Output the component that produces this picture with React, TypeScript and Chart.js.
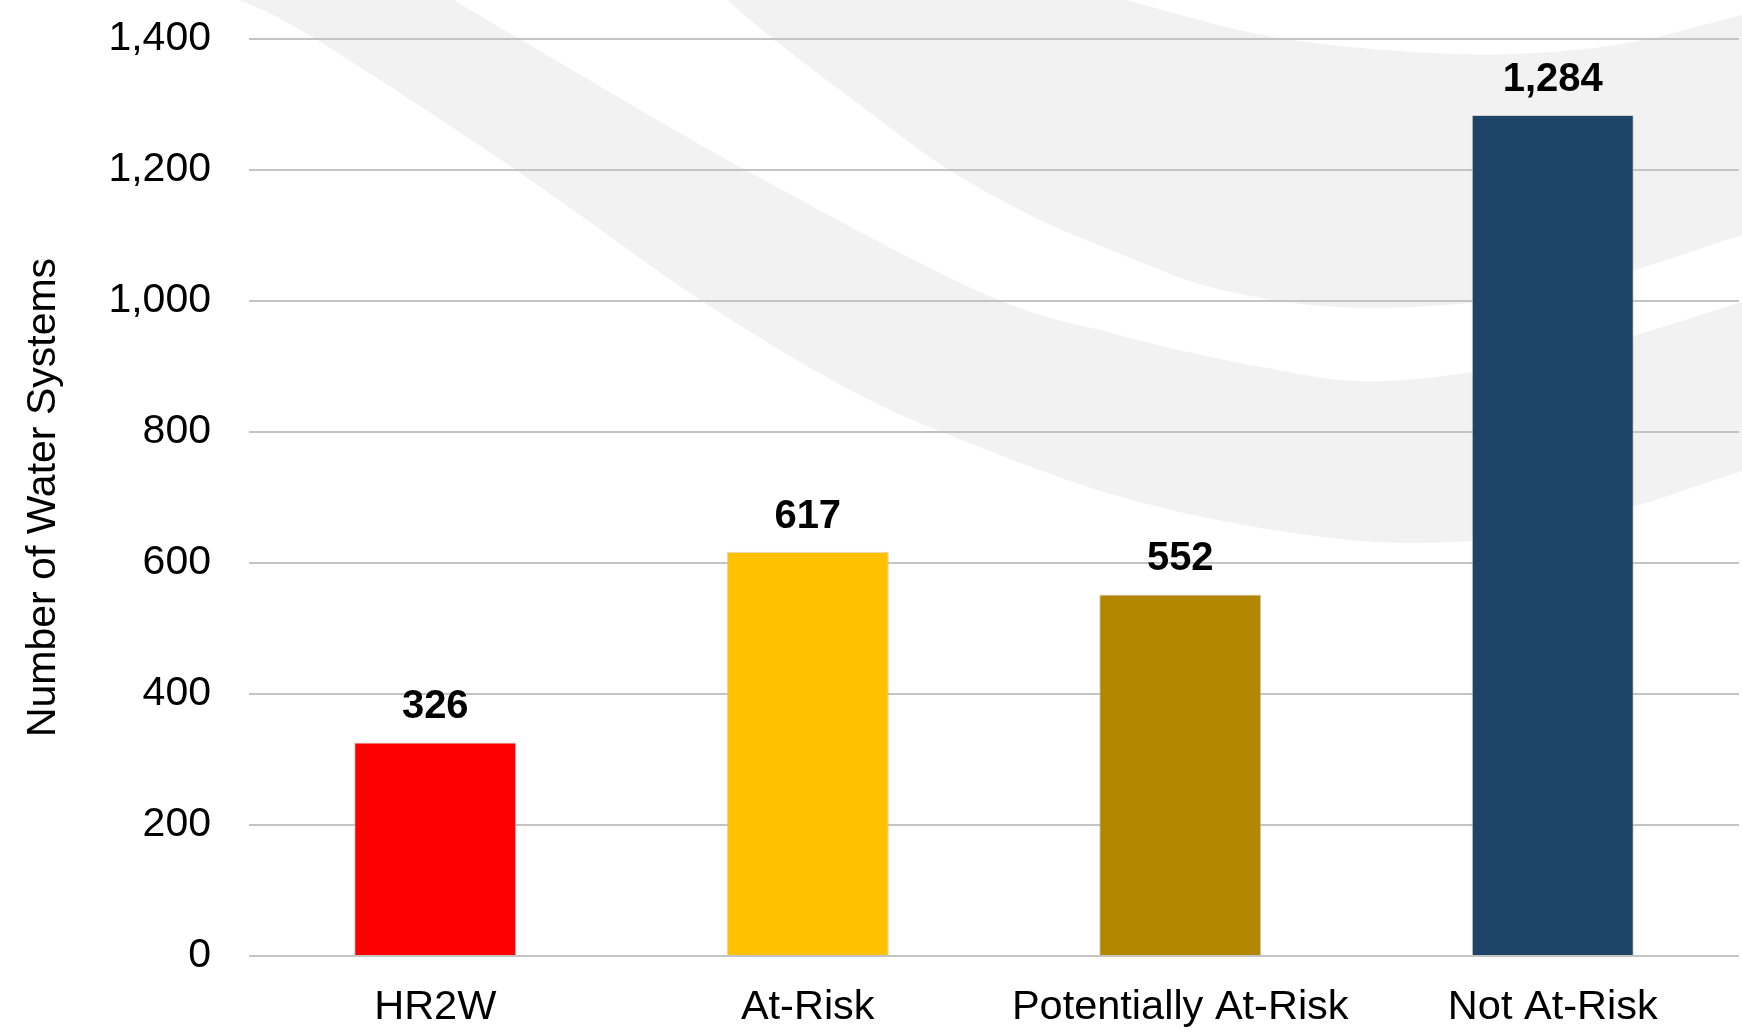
import React, { useEffect, useRef } from "react";
import { Chart, registerables } from "chart.js";

Chart.register(...registerables);

// ---- data ----
const categories = ["HR2W", "At-Risk", "Potentially At-Risk", "Not At-Risk"];
const systemCounts = [326, 617, 552, 1284];
const barColors = ["#FF0000", "#FFC000", "#B38600", "#1D4466"];
const yTickValues = [0, 200, 400, 600, 800, 1000, 1200, 1400];
const yAxisTitle = "Number of Water Systems";

// ---- decorative background swooshes (reference space 1742 x 1036) ----
const REF_W = 1742;
const REF_H = 1036;
const bandALower = [[240, 0], [314, 38], [513, 168], [702, 301], [850, 390], [962, 440], [1111, 494], [1261, 528], [1410, 543], [1559, 528], [1742, 471]];
const bandAUpper = [[454, 0], [518, 38], [742, 168], [980, 292], [1111, 333], [1261, 367], [1385, 381], [1559, 356], [1742, 302]];
const bandBLower = [[727, 0], [772, 38], [860, 105], [946, 168], [1030, 215], [1111, 250], [1222, 290], [1367, 308], [1555, 291], [1742, 235]];
const bandBUpper = [[1126, 0], [1280, 38], [1459, 54], [1609, 46], [1742, 15]];
const swooshColor = "#F2F2F3";

const FONT = "'Liberation Sans', Arial, Helvetica, sans-serif";

function spline(ctx: CanvasRenderingContext2D, pts: number[][], sx: number, sy: number, move: boolean) {
  const p = pts.map(([x, y]) => [x * sx, y * sy]);
  if (move) ctx.moveTo(p[0][0], p[0][1]);
  else ctx.lineTo(p[0][0], p[0][1]);
  for (let i = 0; i < p.length - 1; i++) {
    const p0 = p[i - 1] || p[i];
    const p1 = p[i];
    const p2 = p[i + 1];
    const p3 = p[i + 2] || p[i + 1];
    const c1x = p1[0] + (p2[0] - p0[0]) / 6;
    const c1y = p1[1] + (p2[1] - p0[1]) / 6;
    const c2x = p2[0] - (p3[0] - p1[0]) / 6;
    const c2y = p2[1] - (p3[1] - p1[1]) / 6;
    ctx.bezierCurveTo(c1x, c1y, c2x, c2y, p2[0], p2[1]);
  }
}

const swooshPlugin = {
  id: "swooshes",
  beforeDraw(chart: any) {
    const ctx = chart.ctx as CanvasRenderingContext2D;
    const sx = chart.width / REF_W;
    const sy = chart.height / REF_H;
    ctx.save();
    ctx.fillStyle = "#FFFFFF";
    ctx.fillRect(0, 0, chart.width, chart.height);
    ctx.fillStyle = swooshColor;
    const bands = [
      [bandALower, bandAUpper],
      [bandBLower, bandBUpper],
    ];
    for (const [lower, upper] of bands) {
      ctx.beginPath();
      spline(ctx, lower, sx, sy, true);
      spline(ctx, [...upper].reverse(), sx, sy, false);
      ctx.closePath();
      ctx.fill();
    }
    ctx.restore();
  },
};

const valueLabelPlugin = {
  id: "valueLabels",
  afterDatasetsDraw(chart: any) {
    const ctx = chart.ctx as CanvasRenderingContext2D;
    const meta = chart.getDatasetMeta(0);
    const data = chart.data.datasets[0].data as number[];
    ctx.save();
    ctx.font = `bold 40px ${FONT}`;
    ctx.fillStyle = "#000000";
    ctx.textAlign = "center";
    ctx.textBaseline = "alphabetic";
    meta.data.forEach((bar: any, i: number) => {
      ctx.fillText(data[i].toLocaleString("en-US"), bar.x, bar.y - 24);
    });
    ctx.restore();
  },
};

export default function App() {
  const canvasRef = useRef<HTMLCanvasElement | null>(null);

  useEffect(() => {
    if (!canvasRef.current) return;
    const chart = new Chart(canvasRef.current, {
      type: "bar",
      data: {
        labels: categories,
        datasets: [
          {
            label: yAxisTitle,
            data: systemCounts,
            backgroundColor: barColors,
            borderColor: "rgba(195,195,195,0.7)",
            borderWidth: 1,
            barPercentage: 0.435,
            categoryPercentage: 1,
          },
        ],
      },
      options: {
        animation: false,
        responsive: true,
        maintainAspectRatio: false,
        layout: { padding: { top: 39, right: 3, bottom: 0, left: 0 } },
        plugins: {
          legend: { display: false },
          title: { display: false },
          tooltip: { enabled: false },
        },
        scales: {
          x: {
            grid: { display: false, drawTicks: false },
            border: { display: false },
            ticks: {
              color: "#000000",
              padding: 27,
              font: { family: FONT, size: 41.5 },
              maxRotation: 0,
              autoSkip: false,
            },
            afterFit: (scale: any) => {
              scale.height = 80;
            },
          },
          y: {
            min: 0,
            max: 1400,
            afterBuildTicks: (scale: any) => {
              scale.ticks = yTickValues.map((v) => ({ value: v }));
            },
            grid: { color: "#C4C4C4", lineWidth: 2, drawTicks: false },
            border: { display: false },
            ticks: {
              color: "#000000",
              padding: 38,
              font: { family: FONT, size: 41 },
              callback: (v: any) => Number(v).toLocaleString("en-US"),
            },
            title: {
              display: true,
              text: yAxisTitle,
              color: "#000000",
              font: { family: FONT, size: 41, weight: "normal" },
              padding: { top: 19, bottom: 0 },
            },
            afterFit: (scale: any) => {
              scale.width = 249;
              scale.paddingTop = 0;
              scale.paddingBottom = 0;
            },
          },
        },
      },
      plugins: [swooshPlugin, valueLabelPlugin],
    });
    return () => chart.destroy();
  }, []);

  return (
    <div
      style={{
        position: "fixed",
        left: 0,
        top: 0,
        width: "100vw",
        height: "100vh",
        background: "#FFFFFF",
      }}
    >
      <canvas ref={canvasRef} />
    </div>
  );
}
